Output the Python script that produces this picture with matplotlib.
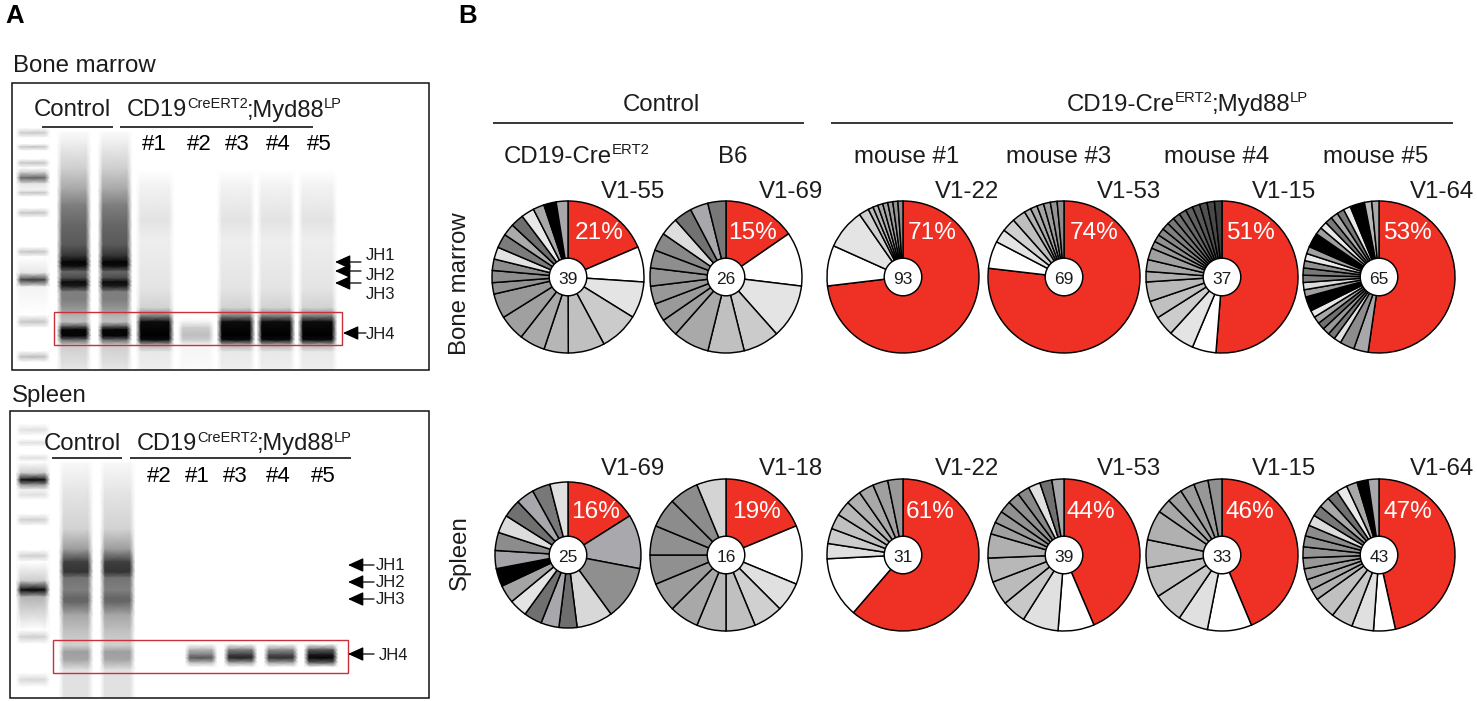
#!/usr/bin/env python3
"""Gel panels (A) and clonal V-segment pies (B), laid out in figure pixels."""
import matplotlib
matplotlib.use("Agg")
import numpy as np
import matplotlib.pyplot as plt
from matplotlib.patches import Circle, Rectangle

plt.rcParams["font.family"] = ["Liberation Sans", "DejaVu Sans"]

W, H = 1477, 701
RED = "#EE3124"
BOX_RED = "#C8303A"
INK = "#1c1c1c"

# --- pie data: slice widths in degrees, clockwise from 12 o'clock, first = red ---
bm_1_deg = [66.8, 27, 28, 30, 28, 18.6, 19.6, 20, 19, 8.7, 9.3, 8.7, 9.3, 10.8, 9.2, 10, 10, 8.5, 9.5, 9]
bm_1_grey = ["w", "#e4e4e4", "#cbcbcb", "#c0c0c0", "#b6b6b6", "#aaaaaa", "#a0a0a0", "#989898", "#929292",
             "#8e8e8e", "#8c8c8c", "#e2e2e2", "#7c7c7c", "#ababab", "#6e6e6e", "#e8e8e8", "#a8a8a8", "#000000", "#a8a8ac"]
bm_2_deg = [55.4, 41.5, 41.5, 27.7, 27.7, 27.7, 13.85, 13.85, 13.85, 13.85, 13.85, 13.85, 13.85, 13.85, 13.85, 13.85]
bm_2_grey = ["w", "#e4e4e4", "#cbcbcb", "#c0c0c0", "#a9a9a9", "#a0a0a0", "#9a9a9a", "#989898", "#949494",
             "#8e8e8e", "#888888", "#dddddd", "#727272", "#a8a8ac", "#787878"]
bm_3_deg = [263.2, 31, 31, 7.7, 3.87, 3.87, 3.87, 3.87, 3.87, 3.87, 3.87]
bm_3_grey = ["w", "#e4e4e4", "#cfcfcf", "#bbbbbb", "#b4b4b4", "#aaaaaa", "#a4a4a4", "#9c9c9c", "#949494", "#8c8c8c"]
bm_4_deg = [276.5, 20.9, 10.4, 10.4, 10.4, 5.2, 5.2, 5.2, 5.2, 5.2, 5.2]
bm_4_grey = ["w", "#e4e4e4", "#d0d0d0", "#bebebe", "#b4b4b4", "#aaaaaa", "#a4a4a4", "#9c9c9c", "#949494", "#8c8c8c"]
bm_5_deg = [184.3, 18.2, 19.5, 15.3, 13.5, 15, 8, 9, 9, 5.6, 5.6, 5.6, 5.6, 5.6, 5.6, 5.6, 5.6, 5.7, 5.7, 5.7, 5.7]
bm_5_grey = ["w", "#e4e4e4", "#cccccc", "#c0c0c0", "#b8b8b8", "#b0b0b0", "#a8a8a8", "#a0a0a0", "#989898", "#909090",
             "#888888", "#808080", "#787878", "#707070", "#686868", "#606060", "#585858", "#505050", "#484848", "#404040"]
bm_6_deg = [188.3, 11.1, 11.1] + [5.54] * 6 + [11.08] + [5.54] * 7 + [11.08] + [5.54] * 6 + [11.08, 5.54, 5.54]
bm_6_grey = ["#a8a8ac", "#8c8c8c", "#e0e0e0", "#787878", "#989898", "#707070", "#a8a8a8", "#e8e8e8", "#000000",
             "#a0a0a0", "#dcdcdc", "#808080", "#787878", "#909090", "#e8e8e8", "#a0a0a0", "#000000", "#a0a0a0",
             "#e8e8e8", "#787878", "#a8a8a8", "#787878", "#e8e8e8", "#000000", "#b8b8b8", "#a8a8a8"]

sp_1_deg = [57.6, 43.2, 43.2, 28.8] + [14.4] * 13
sp_1_grey = ["#a9a9ad", "#8f8f8f", "#d8d8d8", "#6e6e6e", "#a8a8ac", "#707070", "#e4e4e4", "#a4a4a4", "#000000",
             "#a4a4a8", "#8c8c8c", "#dcdcdc", "#707070", "#a8a8ac", "#787878", "#e0e0e0"]
sp_2_deg = [67.5, 45] + [22.5] * 11
sp_2_grey = ["w", "#e0e0e0", "#d0d0d0", "#c0c0c0", "#b8b8b8", "#a8a8a8", "#9c9c9c", "#909090", "#909090",
             "#8c8c8c", "#8c8c8c", "#d4d4d4"]
sp_3_deg = [220.6, 46.4] + [11.6] * 8
sp_3_grey = ["w", "#e0e0e0", "#cccccc", "#c0c0c0", "#b8b8b8", "#b0b0b0", "#a8a8a8", "#a0a0a0", "#989898"]
sp_4_deg = [156.9, 27.7, 27.7, 18.5, 18.5, 18.5, 18.5] + [9.23] * 8
sp_4_grey = ["w", "#e0e0e0", "#c8c8c8", "#bbbbbb", "#b8b8b8", "#b0b0b0", "#a0a0a0", "#989898", "#909090", "#909090",
             "#888888", "#e0e0e0", "#707070", "#a8a8ac"]
sp_5_deg = [157, 33.8, 23, 23, 23, 21.4, 23, 11, 11.6, 11, 11, 10.6]
sp_5_grey = ["w", "#e0e0e0", "#c8c8c8", "#c0c0c0", "#b8b8b8", "#b0b0b0", "#a8a8a8", "#a0a0a0", "#9c9c9c", "#989898", "#909090"]
sp_6_deg = [167.4, 16.7, 16.7, 16.7, 16.7] + [8.37] * 15
sp_6_grey = ["w", "#e0e0e0", "#c8c8c8", "#c0c0c0", "#b0b0b0", "#a8a8a8", "#a0a0a0", "#989898", "#949494", "#909090",
             "#8c8c8c", "#dcdcdc", "#787878", "#a8a8a8", "#707070", "#e8e8e8", "#a8a8a8", "#000000", "#a8a8ac"]

bm_pies = [bm_1_deg, bm_2_deg, bm_3_deg, bm_4_deg, bm_5_deg, bm_6_deg]
bm_greys = [bm_1_grey, bm_2_grey, bm_3_grey, bm_4_grey, bm_5_grey, bm_6_grey]
sp_pies = [sp_1_deg, sp_2_deg, sp_3_deg, sp_4_deg, sp_5_deg, sp_6_deg]
sp_greys = [sp_1_grey, sp_2_grey, sp_3_grey, sp_4_grey, sp_5_grey, sp_6_grey]

bm_counts = ["39", "26", "93", "69", "37", "65"]
sp_counts = ["25", "16", "31", "39", "33", "43"]
bm_pct = ["21%", "15%", "71%", "74%", "51%", "53%"]
sp_pct = ["16%", "19%", "61%", "44%", "46%", "47%"]
bm_genes = ["V1-55", "V1-69", "V1-22", "V1-53", "V1-15", "V1-64"]
sp_genes = ["V1-69", "V1-18", "V1-22", "V1-53", "V1-15", "V1-64"]
mice = ["mouse #1", "mouse #3", "mouse #4", "mouse #5"]
lanes_bm = ["#1", "#2", "#3", "#4", "#5"]
lanes_sp = ["#2", "#1", "#3", "#4", "#5"]

# --- gel lanes: y pixel rows and darkness (0-1) ---
ladder_bm_y = [128, 133, 138, 144, 147, 151, 159, 163, 168, 173, 178, 184, 190, 193, 197, 208, 213, 218, 247, 252, 257,
               273, 280, 287, 315, 322, 328, 351, 357, 362]
ladder_bm_d = [0, .2, 0, 0, .22, 0, 0, .22, 0, .22, .6, .1, .05, .22, 0, 0, .22, 0, 0, .22, 0,
               .1, .75, .05, 0, .22, 0, 0, .25, 0]
ctrl_bm_y = [132, 145, 170, 190, 205, 225, 245, 256, 262, 266, 272, 278, 282, 286, 292, 300, 310, 316, 322, 327, 330, 336, 340, 345, 369]
ctrl_bm_d = [.02, .08, .2, .35, .5, .6, .65, .8, .98, .95, .6, .7, .95, .9, .5, .5, .4, .3, .25, .7, .98, .98, .6, .2, .1]
strong_y = [170, 185, 220, 240, 290, 308, 316, 322, 335, 340, 345, 352, 369]
strong_d = [0, .05, .11, .07, .11, .18, .5, .95, 1, .95, .3, .09, .07]
weak_y = [170, 318, 322, 328, 335, 340, 345, 369]
weak_d = [0, 0, .05, .2, .25, .2, .04, .02]
ladder_sp_y = [424, 430, 436, 439, 443, 447, 454, 458, 462, 473, 480, 485, 490, 495, 500, 514, 520, 526, 550, 556, 562,
               581, 590, 597, 630, 637, 644, 673, 680, 687]
ladder_sp_d = [0, .12, 0, 0, .12, 0, 0, .12, 0, .2, .95, .4, .05, .12, 0, 0, .18, 0, 0, .18, 0,
               .2, .97, .3, 0, .18, 0, 0, .15, 0]
ctrl_sp_y = [463, 490, 530, 550, 562, 572, 578, 590, 598, 602, 615, 630, 645, 652, 660, 670, 697]
ctrl_sp_d = [.03, .1, .18, .4, .75, .8, .55, .5, .6, .6, .35, .25, .18, .38, .35, .12, .12]
band_y = [644, 650, 655, 658, 663, 667]
band_1_d = [0, .3, .5, .65, .25, 0]
band_3_d = [0, .5, .75, .85, .35, 0]
band_4_d = [0, .45, .7, .8, .35, 0]
band_5_d = [0, .65, .9, .97, .6, 0]

fig = plt.figure(figsize=(W / 100, H / 100), dpi=100)
ax = fig.add_axes([0, 0, 1, 1], zorder=10)
ax.set_xlim(0, W)
ax.set_ylim(H, 0)
ax.axis("off")
renderer = fig.canvas.get_renderer()


def lane(x0, x1, ys, darks):
    ys = np.asarray(ys, float)
    darks = np.asarray(darks, float)
    xs = np.array([x0 - 3, x0 + 2, x1 - 2, x1 + 3], float)
    X, Y = np.meshgrid(xs, ys)
    Z = np.outer(darks, [0, 1, 1, 0])
    ax.pcolormesh(X, Y, Z, shading="gouraud", cmap="gray_r", vmin=0, vmax=1, zorder=1)


def label(x, y, s, size=17.3, ha="center", va="center", **kw):
    kw.setdefault("color", INK)
    # va="center" counts the descender space, so nudge back down by about half of it
    if kw.get("rotation"):
        x += size * 0.12
    else:
        y += size * 0.12
    return ax.text(x, y, s, fontsize=size, ha=ha, va=va, zorder=5, **kw)


def chain_text(x, y, parts, size=17.3):
    # baseline text with small raised pieces, each starts where the last one ended
    for s, raised in parts:
        fs = size * 0.62 if raised else size
        t = ax.text(x, y - 8.5 if raised else y, s, fontsize=fs, ha="left", va="baseline", color=INK, zorder=5)
        x += t.get_window_extent(renderer).width - 0.5


def rule(x0, x1, y):
    ax.plot([x0, x1], [y, y], color="k", lw=1.1, solid_capstyle="butt", zorder=4)


def arrow(tip, tail, y):
    ax.annotate("", xy=(tip, y), xytext=(tail, y), zorder=4,
                arrowprops=dict(arrowstyle="-|>,head_length=0.95,head_width=0.43", mutation_scale=10,
                                color="k", lw=0.9, shrinkA=0, shrinkB=0))


# --- panel A ---
label(5, 14, "A", size=18.5, ha="left", fontweight="bold", color="k")
label(458, 14, "B", size=18.5, ha="left", fontweight="bold", color="k")
label(13, 64, "Bone marrow", ha="left")
label(12, 394, "Spleen", ha="left")

lane(19, 47, ladder_bm_y, ladder_bm_d)
lane(60, 88, ctrl_bm_y, ctrl_bm_d)
lane(101, 129, ctrl_bm_y, ctrl_bm_d)
lane(139, 171, strong_y, strong_d)
lane(181, 211, weak_y, weak_d)
lane(220, 252, strong_y, strong_d)
lane(260, 292, strong_y, strong_d)
lane(301, 334, strong_y, strong_d)

lane(19, 47, ladder_sp_y, ladder_sp_d)
lane(62, 90, ctrl_sp_y, ctrl_sp_d)
lane(103, 132, ctrl_sp_y, ctrl_sp_d)
lane(188, 214, band_y, band_1_d)
lane(227, 254, band_y, band_3_d)
lane(267, 295, band_y, band_4_d)
lane(307, 335, band_y, band_5_d)

ax.add_patch(Rectangle((12, 83), 417, 287, fill=False, ec="#111111", lw=1.1, zorder=3))
ax.add_patch(Rectangle((10, 411), 419, 287, fill=False, ec="#111111", lw=1.1, zorder=3))
ax.add_patch(Rectangle((54, 312), 288, 33, fill=False, ec=BOX_RED, lw=1.0, zorder=3))
ax.add_patch(Rectangle((53, 640), 295, 33, fill=False, ec=BOX_RED, lw=1.0, zorder=3))

label(72, 108, "Control")
chain_text(127, 116.5, [("CD19", False), ("CreERT2", True), (";Myd88", False), ("LP", True)], size=17)
rule(42, 113, 127)
rule(120, 313, 127)
for x, s in zip([154, 199, 237, 278, 319], lanes_bm):
    label(x, 143, s, size=16, color="k")

label(82, 442, "Control")
chain_text(137, 450, [("CD19", False), ("CreERT2", True), (";Myd88", False), ("LP", True)], size=17)
rule(52, 122, 458)
rule(130, 351, 458)
for x, s in zip([159, 197, 235, 278, 323], lanes_sp):
    label(x, 475, s, size=16, color="k")

for y in [262, 271, 283]:
    arrow(335, 361, y)
for y, s in zip([254, 274, 293], ["JH1", "JH2", "JH3"]):
    label(366, y, s, size=12, ha="left")
arrow(343, 366, 333)
label(366, 333, "JH4", size=12, ha="left")

for y, s in zip([565, 582, 599], ["JH1", "JH2", "JH3"]):
    arrow(348, 374, y)
    label(376, y - 1, s, size=12, ha="left")
arrow(348, 374, 654)
label(379, 654, "JH4", size=12, ha="left")

# --- panel B ---
label(661, 103, "Control")
chain_text(1067, 111, [("CD19-Cre", False), ("ERT2", True), (";Myd88", False), ("LP", True)])
rule(493, 804, 123)
rule(831, 1453, 123)
chain_text(504, 163, [("CD19-Cre", False), ("ERT2", True)])
label(733, 155, "B6")
for x, s in zip([907, 1059, 1217, 1376], mice):
    label(x, 155, s)
label(458, 284, "Bone marrow", rotation=90)
label(458, 553, "Spleen", rotation=90)


def draw_pie(cx, cy, r, deg, greys, count):
    pad = 1.04
    pie_ax = fig.add_axes([(cx - r * pad) / W, 1 - (cy + r * pad) / H, 2 * r * pad / W, 2 * r * pad / H])
    pie_ax.pie(deg, colors=[RED] + greys, startangle=90, counterclock=False,
               wedgeprops=dict(edgecolor="k", linewidth=1.05))
    pie_ax.set_xlim(-pad, pad)
    pie_ax.set_ylim(-pad, pad)
    pie_ax.add_patch(Circle((0, 0), 18.8 / r, fc="w", ec="k", lw=1.05, zorder=5))
    pie_ax.text(0, -0.03, count, ha="center", va="center", fontsize=12.5, color=INK, zorder=6)


pie_x = [568, 726, 903, 1064, 1222, 1379]
gene_x = [633, 791, 967, 1129, 1284, 1442]
pct_x_bm = [599, 753, 932, 1094, 1250, 1407]
pct_x_sp = [596, 757, 930, 1091, 1250, 1408]
for i in range(6):
    draw_pie(pie_x[i], 277, 76, bm_pies[i], bm_greys[i], bm_counts[i])
    r2 = 73 if i == 0 else 76
    draw_pie(pie_x[i], 555, r2, sp_pies[i], sp_greys[i], sp_counts[i])
    label(gene_x[i], 190, bm_genes[i])
    label(gene_x[i], 467, sp_genes[i])
    label(pct_x_bm[i], 231, bm_pct[i], size=17.6, color="w")
    label(pct_x_sp[i], 510, sp_pct[i], size=17.6, color="w")

fig.savefig("out.png", dpi=100)
